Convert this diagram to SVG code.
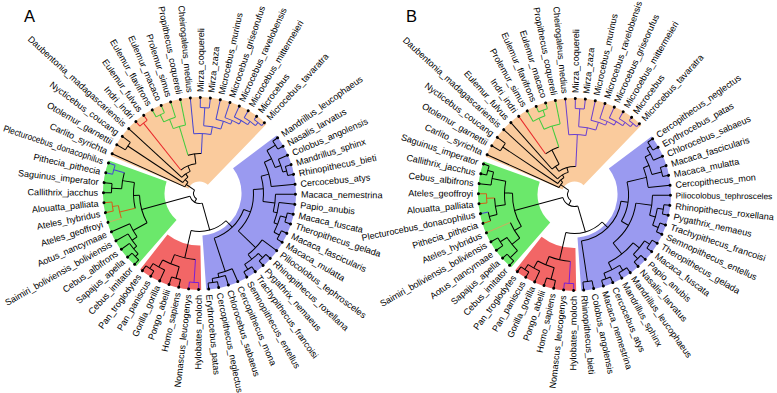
<svg xmlns="http://www.w3.org/2000/svg" width="777" height="393" viewBox="0 0 777 393">
<style>
text{font-family:"Liberation Sans",Arial,Helvetica,sans-serif;font-size:9.05px;fill:#000}
.e{text-anchor:end}
.t{font-size:16.5px}
.lf circle{fill:#000}
.br{fill:none;stroke:#000;stroke-width:1}
.br .cr{stroke:#E8262A}
.br .cg{stroke:#3DCC3D}
.br .cb{stroke:#4646D2}
.br .cv{stroke:#6A3FD0}
.br .cp{stroke:#7A1FD6}
.br .co{stroke:#D2601A}
.br .ck{stroke:#C8B060}
.wd circle{fill:none}
.wo{stroke:#FACB9D}
.wg{stroke:#6BE86B}
.wr{stroke:#F26666}
.wb{stroke:#9A9AF0}
</style>
<rect width="777" height="393" fill="#fff"/>
<text class="t" x="24" y="21.5">A</text>
<text class="t" x="406" y="21.5">B</text>

<g id="treeA" transform="translate(199.5,193.5)">
<g id="A_wedges" class="wd">
<circle class="wo" r="54.25" stroke-width="84.5" pathLength="360" stroke-dasharray="111 360" transform="rotate(203)"/>
<circle class="wg" r="65.75" stroke-width="61.5" pathLength="360" stroke-dasharray="69 360" transform="rotate(131)"/>
<circle class="wr" r="74.25" stroke-width="44.5" pathLength="360" stroke-dasharray="39 360" transform="rotate(89)"/>
<circle class="wb" r="69.25" stroke-width="54.5" pathLength="360" stroke-dasharray="123 360" transform="rotate(-37)"/>
</g>
<g id="A_connectors" class="br">
<circle r="6" pathLength="360" stroke-dasharray="94.884 360" transform="rotate(119.456)"/>
<line x1="6" x2="10" transform="rotate(119.456)"/><line x1="6" x2="16" transform="rotate(214.34)"/>
<circle r="10" pathLength="360" stroke-dasharray="90.2125 360" transform="rotate(74.35)"/>
<line x1="10" x2="38" transform="rotate(74.35)"/><line x1="10" x2="60" transform="rotate(164.5625)"/>
<circle r="38" pathLength="360" stroke-dasharray="57.045 360" transform="rotate(45.83)"/>
<line x1="38" x2="47" transform="rotate(45.83)"/><line x1="38" x2="66" transform="rotate(102.875)"/>
<circle r="47" pathLength="360" stroke-dasharray="51.845 360" transform="rotate(19.905)"/>
<line x1="47" x2="54" transform="rotate(19.905)"/><line x1="47" x2="82" transform="rotate(71.75)"/>
<circle r="54" pathLength="360" stroke-dasharray="48.19 360" transform="rotate(-4.19)"/>
<line x1="54" x2="64" transform="rotate(-4.19)"/><line x1="54" x2="78" transform="rotate(44)"/>
<circle r="64" pathLength="360" stroke-dasharray="22.875 360" transform="rotate(-15.625)"/>
<line x1="64" x2="72" transform="rotate(-15.625)"/><line x1="64" x2="76" transform="rotate(7.25)"/>
<circle r="72" pathLength="360" stroke-dasharray="20.25 360" transform="rotate(-25.75)"/>
<line x1="72" x2="80" transform="rotate(-25.75)"/><line x1="72" x2="96" transform="rotate(-5.5)"/>
<circle r="80" pathLength="360" stroke-dasharray="13.5 360" transform="rotate(-32.5)"/>
<line x1="80" x2="90" transform="rotate(-32.5)"/><line x1="80" x2="86" transform="rotate(-19)"/>
<circle r="90" pathLength="360" stroke-dasharray="6 360" transform="rotate(-35.5)"/>
<line x1="90" x2="96" transform="rotate(-35.5)"/><line x1="90" x2="96" transform="rotate(-29.5)"/>
<circle r="86" pathLength="360" stroke-dasharray="9 360" transform="rotate(-23.5)"/>
<line x1="86" x2="96" transform="rotate(-23.5)"/><line x1="86" x2="90" transform="rotate(-14.5)"/>
<circle r="90" pathLength="360" stroke-dasharray="6 360" transform="rotate(-17.5)"/>
<line x1="90" x2="96" transform="rotate(-17.5)"/><line x1="90" x2="96" transform="rotate(-11.5)"/>
<circle r="76" pathLength="360" stroke-dasharray="13.5 360" transform="rotate(0.5)"/>
<line x1="76" x2="96" transform="rotate(0.5)"/><line x1="76" x2="80" transform="rotate(14)"/>
<circle r="80" pathLength="360" stroke-dasharray="15 360" transform="rotate(6.5)"/>
<line x1="80" x2="96" transform="rotate(6.5)"/><line x1="80" x2="84" transform="rotate(21.5)"/>
<circle r="84" pathLength="360" stroke-dasharray="12 360" transform="rotate(15.5)"/>
<line x1="84" x2="90" transform="rotate(15.5)"/><line x1="84" x2="90" transform="rotate(27.5)"/>
<circle r="90" pathLength="360" stroke-dasharray="6 360" transform="rotate(12.5)"/>
<line x1="90" x2="96" transform="rotate(12.5)"/><line x1="90" x2="96" transform="rotate(18.5)"/>
<circle r="90" pathLength="360" stroke-dasharray="6 360" transform="rotate(24.5)"/>
<line x1="90" x2="96" transform="rotate(24.5)"/><line x1="90" x2="96" transform="rotate(30.5)"/>
<circle r="78" pathLength="360" stroke-dasharray="15 360" transform="rotate(36.5)"/>
<line x1="78" x2="96" transform="rotate(36.5)"/><line x1="78" x2="84" transform="rotate(51.5)"/>
<circle r="84" pathLength="360" stroke-dasharray="12 360" transform="rotate(45.5)"/>
<line x1="84" x2="90" transform="rotate(45.5)"/><line x1="84" x2="90" transform="rotate(57.5)"/>
<circle r="90" pathLength="360" stroke-dasharray="6 360" transform="rotate(42.5)"/>
<line x1="90" x2="96" transform="rotate(42.5)"/><line x1="90" x2="96" transform="rotate(48.5)"/>
<circle r="90" pathLength="360" stroke-dasharray="6 360" transform="rotate(54.5)"/>
<line x1="90" x2="96" transform="rotate(54.5)"/><line x1="90" x2="96" transform="rotate(60.5)"/>
<circle r="82" pathLength="360" stroke-dasharray="10.5 360" transform="rotate(66.5)"/>
<line x1="82" x2="96" transform="rotate(66.5)"/><line x1="82" x2="86" transform="rotate(77)"/>
<circle r="86" pathLength="360" stroke-dasharray="9 360" transform="rotate(72.5)"/>
<line x1="86" x2="96" transform="rotate(72.5)"/><line x1="86" x2="90" transform="rotate(81.5)"/>
<circle r="90" pathLength="360" stroke-dasharray="6 360" transform="rotate(78.5)"/>
<line x1="90" x2="96" transform="rotate(78.5)"/><line x1="90" x2="96" transform="rotate(84.5)"/>
<circle r="66" pathLength="360" stroke-dasharray="18.75 360" transform="rotate(93.5)"/>
<line class="cp" x1="66" x2="89" transform="rotate(93.5)"/><line x1="66" x2="76" transform="rotate(112.25)"/>
<circle class="cp" r="89" pathLength="360" stroke-dasharray="6 360" transform="rotate(90.5)"/>
<line class="cp" x1="89" x2="96" transform="rotate(90.5)"/><line class="cp" x1="89" x2="96" transform="rotate(96.5)"/>
<circle r="76" pathLength="360" stroke-dasharray="13.5 360" transform="rotate(105.5)"/>
<line x1="76" x2="88" transform="rotate(105.5)"/><line x1="76" x2="84" transform="rotate(119)"/>
<circle r="88" pathLength="360" stroke-dasharray="6 360" transform="rotate(102.5)"/>
<line x1="88" x2="96" transform="rotate(102.5)"/><line x1="88" x2="96" transform="rotate(108.5)"/>
<circle r="84" pathLength="360" stroke-dasharray="9 360" transform="rotate(114.5)"/>
<line x1="84" x2="96" transform="rotate(114.5)"/><line x1="84" x2="90" transform="rotate(123.5)"/>
<circle r="90" pathLength="360" stroke-dasharray="6 360" transform="rotate(120.5)"/>
<line x1="90" x2="96" transform="rotate(120.5)"/><line x1="90" x2="96" transform="rotate(126.5)"/>
<circle r="60" pathLength="360" stroke-dasharray="27.375 360" transform="rotate(150.875)"/>
<line x1="60" x2="76" transform="rotate(150.875)"/><line x1="60" x2="66" transform="rotate(178.25)"/>
<circle r="66" pathLength="360" stroke-dasharray="22.5 360" transform="rotate(167)"/>
<line class="co" x1="66" x2="82" transform="rotate(167)"/><line x1="66" x2="78" transform="rotate(189.5)"/>
<circle r="76" pathLength="360" stroke-dasharray="11.25 360" transform="rotate(145.25)"/>
<line x1="76" x2="82" transform="rotate(145.25)"/><line x1="76" x2="96" transform="rotate(156.5)"/>
<circle r="82" pathLength="360" stroke-dasharray="10.5 360" transform="rotate(140)"/>
<line x1="82" x2="86" transform="rotate(140)"/><line x1="82" x2="96" transform="rotate(150.5)"/>
<circle r="86" pathLength="360" stroke-dasharray="9 360" transform="rotate(135.5)"/>
<line x1="86" x2="90" transform="rotate(135.5)"/><line x1="86" x2="96" transform="rotate(144.5)"/>
<circle r="90" pathLength="360" stroke-dasharray="6 360" transform="rotate(132.5)"/>
<line x1="90" x2="96" transform="rotate(132.5)"/><line x1="90" x2="96" transform="rotate(138.5)"/>
<circle class="co" r="82" pathLength="360" stroke-dasharray="9 360" transform="rotate(162.5)"/>
<line class="ck" x1="82" x2="96" transform="rotate(162.5)"/><line class="co" x1="82" x2="88" transform="rotate(171.5)"/>
<circle class="co" r="88" pathLength="360" stroke-dasharray="6 360" transform="rotate(168.5)"/>
<line class="co" x1="88" x2="96" transform="rotate(168.5)"/><line class="co" x1="88" x2="96" transform="rotate(174.5)"/>
<circle r="78" pathLength="360" stroke-dasharray="12 360" transform="rotate(183.5)"/>
<line x1="78" x2="88" transform="rotate(183.5)"/><line class="cb" x1="78" x2="89" transform="rotate(195.5)"/>
<circle r="88" pathLength="360" stroke-dasharray="6 360" transform="rotate(180.5)"/>
<line x1="88" x2="96" transform="rotate(180.5)"/><line x1="88" x2="96" transform="rotate(186.5)"/>
<circle class="cb" r="89" pathLength="360" stroke-dasharray="6 360" transform="rotate(192.5)"/>
<line class="cb" x1="89" x2="96" transform="rotate(192.5)"/><line class="cb" x1="89" x2="96" transform="rotate(198.5)"/>
<circle r="16" pathLength="360" stroke-dasharray="19.685 360" transform="rotate(204.5)"/>
<line x1="16" x2="96" transform="rotate(204.5)"/><line x1="16" x2="20" transform="rotate(224.185)"/>
<circle r="20" pathLength="360" stroke-dasharray="21.37 360" transform="rotate(213.5)"/>
<line x1="20" x2="86" transform="rotate(213.5)"/><line x1="20" x2="24" transform="rotate(234.87)"/>
<circle r="86" pathLength="360" stroke-dasharray="6 360" transform="rotate(210.5)"/>
<line x1="86" x2="96" transform="rotate(210.5)"/><line x1="86" x2="96" transform="rotate(216.5)"/>
<circle r="24" pathLength="360" stroke-dasharray="24.74 360" transform="rotate(222.5)"/>
<line x1="24" x2="96" transform="rotate(222.5)"/><line x1="24" x2="30" transform="rotate(247.24)"/>
<circle r="30" pathLength="360" stroke-dasharray="31.477 360" transform="rotate(231.5)"/>
<line class="cr" x1="30" x2="90" transform="rotate(231.5)"/><line x1="30" x2="40" transform="rotate(262.977)"/>
<circle class="cr" r="90" pathLength="360" stroke-dasharray="6 360" transform="rotate(228.5)"/>
<line class="cr" x1="90" x2="96" transform="rotate(228.5)"/><line class="cr" x1="90" x2="96" transform="rotate(234.5)"/>
<circle r="40" pathLength="360" stroke-dasharray="19.453 360" transform="rotate(253.25)"/>
<line class="cg" x1="40" x2="70" transform="rotate(253.25)"/><line class="cb" x1="40" x2="60" transform="rotate(272.703)"/>
<circle class="cg" r="70" pathLength="360" stroke-dasharray="10.5 360" transform="rotate(248)"/>
<line class="cg" x1="70" x2="80" transform="rotate(248)"/><line class="cg" x1="70" x2="96" transform="rotate(258.5)"/>
<circle class="cg" r="80" pathLength="360" stroke-dasharray="9 360" transform="rotate(243.5)"/>
<line class="cg" x1="80" x2="88" transform="rotate(243.5)"/><line class="cg" x1="80" x2="96" transform="rotate(252.5)"/>
<circle class="cg" r="88" pathLength="360" stroke-dasharray="6 360" transform="rotate(240.5)"/>
<line class="cg" x1="88" x2="96" transform="rotate(240.5)"/><line class="cg" x1="88" x2="96" transform="rotate(246.5)"/>
<circle class="cb" r="60" pathLength="360" stroke-dasharray="16.406 360" transform="rotate(264.5)"/>
<line class="cb" x1="60" x2="96" transform="rotate(264.5)"/><line class="cb" x1="60" x2="68" transform="rotate(280.906)"/>
<circle class="cb" r="68" pathLength="360" stroke-dasharray="14.8125 360" transform="rotate(273.5)"/>
<line class="cb" x1="68" x2="86" transform="rotate(273.5)"/><line class="cb" x1="68" x2="76" transform="rotate(288.3125)"/>
<circle class="cb" r="86" pathLength="360" stroke-dasharray="6 360" transform="rotate(270.5)"/>
<line class="cb" x1="86" x2="96" transform="rotate(270.5)"/><line class="cb" x1="86" x2="96" transform="rotate(276.5)"/>
<circle class="cb" r="76" pathLength="360" stroke-dasharray="11.625 360" transform="rotate(282.5)"/>
<line class="cb" x1="76" x2="96" transform="rotate(282.5)"/><line class="cb" x1="76" x2="80" transform="rotate(294.125)"/>
<circle class="cb" r="80" pathLength="360" stroke-dasharray="11.25 360" transform="rotate(288.5)"/>
<line class="cb" x1="80" x2="96" transform="rotate(288.5)"/><line class="cb" x1="80" x2="84" transform="rotate(299.75)"/>
<circle class="cb" r="84" pathLength="360" stroke-dasharray="10.5 360" transform="rotate(294.5)"/>
<line class="cb" x1="84" x2="96" transform="rotate(294.5)"/><line class="cb" x1="84" x2="88" transform="rotate(305)"/>
<circle class="cb" r="88" pathLength="360" stroke-dasharray="9 360" transform="rotate(300.5)"/>
<line class="cb" x1="88" x2="96" transform="rotate(300.5)"/><line class="cb" x1="88" x2="92" transform="rotate(309.5)"/>
<circle class="cb" r="92" pathLength="360" stroke-dasharray="6 360" transform="rotate(306.5)"/>
<line class="cb" x1="92" x2="96" transform="rotate(306.5)"/><line class="cb" x1="92" x2="96" transform="rotate(312.5)"/>
</g>
<g id="A_leaves" class="lf">
<g id="A_Mandrillus_leucophaeus" transform="rotate(-35.5)"><circle cx="96" r="1.5"/><text x="101.5" y="3.2">Mandrillus_leucophaeus</text></g>
<g id="A_Nasalis_larvatus" transform="rotate(-29.5)"><circle cx="96" r="1.5"/><text x="101.5" y="3.2">Nasalis_larvatus</text></g>
<g id="A_Colobus_angolensis" transform="rotate(-23.5)"><circle cx="96" r="1.5"/><text x="101.5" y="3.2">Colobus_angolensis</text></g>
<g id="A_Mandrillus_sphinx" transform="rotate(-17.5)"><circle cx="96" r="1.5"/><text x="101.5" y="3.2">Mandrillus_sphinx</text></g>
<g id="A_Rhinopithecus_bieti" transform="rotate(-11.5)"><circle cx="96" r="1.5"/><text x="101.5" y="3.2">Rhinopithecus_bieti</text></g>
<g id="A_Cercocebus_atys" transform="rotate(-5.5)"><circle cx="96" r="1.5"/><text x="101.5" y="3.2">Cercocebus_atys</text></g>
<g id="A_Macaca_nemestrina" transform="rotate(0.5)"><circle cx="96" r="1.5"/><text x="101.5" y="3.2">Macaca_nemestrina</text></g>
<g id="A_Papio_anubis" transform="rotate(6.5)"><circle cx="96" r="1.5"/><text x="101.5" y="3.2">Papio_anubis</text></g>
<g id="A_Macaca_fuscata" transform="rotate(12.5)"><circle cx="96" r="1.5"/><text x="101.5" y="3.2">Macaca_fuscata</text></g>
<g id="A_Theropithecus_gelada" transform="rotate(18.5)"><circle cx="96" r="1.5"/><text x="101.5" y="3.2">Theropithecus_gelada</text></g>
<g id="A_Macaca_fascicularis" transform="rotate(24.5)"><circle cx="96" r="1.5"/><text x="101.5" y="3.2">Macaca_fascicularis</text></g>
<g id="A_Macaca_mulatta" transform="rotate(30.5)"><circle cx="96" r="1.5"/><text x="101.5" y="3.2">Macaca_mulatta</text></g>
<g id="A_Piliocolobus_tephrosceles" transform="rotate(36.5)"><circle cx="96" r="1.5"/><text x="101.5" y="3.2">Piliocolobus_tephrosceles</text></g>
<g id="A_Rhinopithecus_roxellana" transform="rotate(42.5)"><circle cx="96" r="1.5"/><text x="101.5" y="3.2">Rhinopithecus_roxellana</text></g>
<g id="A_Pygathrix_nemaeus" transform="rotate(48.5)"><circle cx="96" r="1.5"/><text x="101.5" y="3.2">Pygathrix_nemaeus</text></g>
<g id="A_Trachypithecus_francoisi" transform="rotate(54.5)"><circle cx="96" r="1.5"/><text x="101.5" y="3.2">Trachypithecus_francoisi</text></g>
<g id="A_Semnopithecus_entellus" transform="rotate(60.5)"><circle cx="96" r="1.5"/><text x="101.5" y="3.2">Semnopithecus_entellus</text></g>
<g id="A_Cercopithecus_mona" transform="rotate(66.5)"><circle cx="96" r="1.5"/><text x="101.5" y="3.2">Cercopithecus_mona</text></g>
<g id="A_Chlorocebus_sabaeus" transform="rotate(72.5)"><circle cx="96" r="1.5"/><text x="101.5" y="3.2">Chlorocebus_sabaeus</text></g>
<g id="A_Cercopithecus_neglectus" transform="rotate(78.5)"><circle cx="96" r="1.5"/><text x="101.5" y="3.2">Cercopithecus_neglectus</text></g>
<g id="A_Erythrocebus_patas" transform="rotate(84.5)"><circle cx="96" r="1.5"/><text x="101.5" y="3.2">Erythrocebus_patas</text></g>
<g id="A_Hylobates_moloch" transform="rotate(90.5)"><circle cx="96" r="1.5"/><text class="e" transform="rotate(180)" x="-101.5" y="3.2">Hylobates_moloch</text></g>
<g id="A_Nomascus_leucogenys" transform="rotate(96.5)"><circle cx="96" r="1.5"/><text class="e" transform="rotate(180)" x="-101.5" y="3.2">Nomascus_leucogenys</text></g>
<g id="A_Homo_sapiens" transform="rotate(102.5)"><circle cx="96" r="1.5"/><text class="e" transform="rotate(180)" x="-101.5" y="3.2">Homo_sapiens</text></g>
<g id="A_Pongo_abelii" transform="rotate(108.5)"><circle cx="96" r="1.5"/><text class="e" transform="rotate(180)" x="-101.5" y="3.2">Pongo_abelii</text></g>
<g id="A_Gorilla_gorilla" transform="rotate(114.5)"><circle cx="96" r="1.5"/><text class="e" transform="rotate(180)" x="-101.5" y="3.2">Gorilla_gorilla</text></g>
<g id="A_Pan_paniscus" transform="rotate(120.5)"><circle cx="96" r="1.5"/><text class="e" transform="rotate(180)" x="-101.5" y="3.2">Pan_paniscus</text></g>
<g id="A_Pan_troglodytes" transform="rotate(126.5)"><circle cx="96" r="1.5"/><text class="e" transform="rotate(180)" x="-101.5" y="3.2">Pan_troglodytes</text></g>
<g id="A_Cebus_imitator" transform="rotate(132.5)"><circle cx="96" r="1.5"/><text class="e" transform="rotate(180)" x="-101.5" y="3.2">Cebus_imitator</text></g>
<g id="A_Sapajus_apella" transform="rotate(138.5)"><circle cx="96" r="1.5"/><text class="e" transform="rotate(180)" x="-101.5" y="3.2">Sapajus_apella</text></g>
<g id="A_Cebus_albifrons" transform="rotate(144.5)"><circle cx="96" r="1.5"/><text class="e" transform="rotate(180)" x="-101.5" y="3.2">Cebus_albifrons</text></g>
<g id="A_Saimiri_boliviensis_boliviensis" transform="rotate(150.5)"><circle cx="96" r="1.5"/><text class="e" transform="rotate(180)" x="-101.5" y="3.2">Saimiri_boliviensis_boliviensis</text></g>
<g id="A_Aotus_nancymaae" transform="rotate(156.5)"><circle cx="96" r="1.5"/><text class="e" transform="rotate(180)" x="-101.5" y="3.2">Aotus_nancymaae</text></g>
<g id="A_Ateles_geoffroyi" transform="rotate(162.5)"><circle cx="96" r="1.5"/><text class="e" transform="rotate(180)" x="-101.5" y="3.2">Ateles_geoffroyi</text></g>
<g id="A_Ateles_hybridus" transform="rotate(168.5)"><circle cx="96" r="1.5"/><text class="e" transform="rotate(180)" x="-101.5" y="3.2">Ateles_hybridus</text></g>
<g id="A_Alouatta_palliata" transform="rotate(174.5)"><circle cx="96" r="1.5"/><text class="e" transform="rotate(180)" x="-101.5" y="3.2">Alouatta_palliata</text></g>
<g id="A_Callithrix_jacchus" transform="rotate(180.5)"><circle cx="96" r="1.5"/><text class="e" transform="rotate(180)" x="-101.5" y="3.2">Callithrix_jacchus</text></g>
<g id="A_Saguinus_imperator" transform="rotate(186.5)"><circle cx="96" r="1.5"/><text class="e" transform="rotate(180)" x="-101.5" y="3.2">Saguinus_imperator</text></g>
<g id="A_Pithecia_pithecia" transform="rotate(192.5)"><circle cx="96" r="1.5"/><text class="e" transform="rotate(180)" x="-101.5" y="3.2">Pithecia_pithecia</text></g>
<g id="A_Plecturocebus_donacophilus" transform="rotate(198.5)"><circle cx="96" r="1.5"/><text class="e" transform="rotate(180)" x="-101.5" y="3.2" textLength="105" lengthAdjust="spacingAndGlyphs">Plecturocebus_donacophilus</text></g>
<g id="A_Carlito_syrichta" transform="rotate(204.5)"><circle cx="96" r="1.5"/><text class="e" transform="rotate(180)" x="-101.5" y="3.2">Carlito_syrichta</text></g>
<g id="A_Otolemur_garnettii" transform="rotate(210.5)"><circle cx="96" r="1.5"/><text class="e" transform="rotate(180)" x="-101.5" y="3.2">Otolemur_garnettii</text></g>
<g id="A_Nycticebus_coucang" transform="rotate(216.5)"><circle cx="96" r="1.5"/><text class="e" transform="rotate(180)" x="-101.5" y="3.2">Nycticebus_coucang</text></g>
<g id="A_Daubentonia_madagascariensis" transform="rotate(222.5)"><circle cx="96" r="1.5"/><text class="e" transform="rotate(180)" x="-101.5" y="3.2">Daubentonia_madagascariensis</text></g>
<g id="A_Indri_indri" transform="rotate(228.5)"><circle cx="96" r="1.5"/><text class="e" transform="rotate(180)" x="-101.5" y="3.2">Indri_indri</text></g>
<g id="A_Eulemur_fulvus" transform="rotate(234.5)"><circle cx="96" r="1.5"/><text class="e" transform="rotate(180)" x="-101.5" y="3.2">Eulemur_fulvus</text></g>
<g id="A_Eulemur_flavifrons" transform="rotate(240.5)"><circle cx="96" r="1.5"/><text class="e" transform="rotate(180)" x="-101.5" y="3.2">Eulemur_flavifrons</text></g>
<g id="A_Eulemur_macaco" transform="rotate(246.5)"><circle cx="96" r="1.5"/><text class="e" transform="rotate(180)" x="-101.5" y="3.2">Eulemur_macaco</text></g>
<g id="A_Prolemur_simus" transform="rotate(252.5)"><circle cx="96" r="1.5"/><text class="e" transform="rotate(180)" x="-101.5" y="3.2">Prolemur_simus</text></g>
<g id="A_Propithecus_coquereli" transform="rotate(258.5)"><circle cx="96" r="1.5"/><text class="e" transform="rotate(180)" x="-101.5" y="3.2">Propithecus_coquereli</text></g>
<g id="A_Cheirogaleus_medius" transform="rotate(264.5)"><circle cx="96" r="1.5"/><text class="e" transform="rotate(180)" x="-101.5" y="3.2">Cheirogaleus_medius</text></g>
<g id="A_Mirza_coquereli" transform="rotate(270.5)"><circle cx="96" r="1.5"/><text x="101.5" y="3.2">Mirza_coquereli</text></g>
<g id="A_Mirza_zaza" transform="rotate(276.5)"><circle cx="96" r="1.5"/><text x="101.5" y="3.2">Mirza_zaza</text></g>
<g id="A_Microcebus_murinus" transform="rotate(282.5)"><circle cx="96" r="1.5"/><text x="101.5" y="3.2">Microcebus_murinus</text></g>
<g id="A_Microcebus_griseorufus" transform="rotate(288.5)"><circle cx="96" r="1.5"/><text x="101.5" y="3.2">Microcebus_griseorufus</text></g>
<g id="A_Microcebus_ravelobensis" transform="rotate(294.5)"><circle cx="96" r="1.5"/><text x="101.5" y="3.2">Microcebus_ravelobensis</text></g>
<g id="A_Microcebus_mittermeieri" transform="rotate(300.5)"><circle cx="96" r="1.5"/><text x="101.5" y="3.2">Microcebus_mittermeieri</text></g>
<g id="A_Microcebus" transform="rotate(306.5)"><circle cx="96" r="1.5"/><text x="101.5" y="3.2">Microcebus</text></g>
<g id="A_Microcebus_tavaratra" transform="rotate(312.5)"><circle cx="96" r="1.5"/><text x="101.5" y="3.2">Microcebus_tavaratra</text></g>
</g>
</g>

<g id="treeB" transform="translate(574.5,194.5)">
<g id="B_wedges" class="wd">
<circle class="wo" r="54.75" stroke-width="83.5" pathLength="360" stroke-dasharray="111 360" transform="rotate(203)"/>
<circle class="wg" r="66.75" stroke-width="59.5" pathLength="360" stroke-dasharray="69 360" transform="rotate(131)"/>
<circle class="wr" r="75" stroke-width="43" pathLength="360" stroke-dasharray="39 360" transform="rotate(89)"/>
<circle class="wb" r="69.75" stroke-width="53.5" pathLength="360" stroke-dasharray="123 360" transform="rotate(-37)"/>
</g>
<g id="B_connectors" class="br">
<circle r="7" pathLength="360" stroke-dasharray="95.73 360" transform="rotate(119.49)"/>
<line x1="7" x2="12" transform="rotate(119.49)"/><line x1="7" x2="17" transform="rotate(215.22)"/>
<circle r="12" pathLength="360" stroke-dasharray="91.265 360" transform="rotate(73.86)"/>
<line x1="12" x2="39" transform="rotate(73.86)"/><line x1="12" x2="62" transform="rotate(165.125)"/>
<circle r="39" pathLength="360" stroke-dasharray="58.035 360" transform="rotate(44.84)"/>
<line x1="39" x2="47" transform="rotate(44.84)"/><line x1="39" x2="67" transform="rotate(102.875)"/>
<circle r="47" pathLength="360" stroke-dasharray="73.3125 360" transform="rotate(8.1875)"/>
<line x1="47" x2="54" transform="rotate(8.1875)"/><line x1="47" x2="88" transform="rotate(81.5)"/>
<circle r="54" pathLength="360" stroke-dasharray="43.125 360" transform="rotate(-13.375)"/>
<line x1="54" x2="74" transform="rotate(-13.375)"/><line x1="54" x2="62" transform="rotate(29.75)"/>
<circle r="74" pathLength="360" stroke-dasharray="15.75 360" transform="rotate(-21.25)"/>
<line x1="74" x2="80" transform="rotate(-21.25)"/><line x1="74" x2="96" transform="rotate(-5.5)"/>
<circle r="80" pathLength="360" stroke-dasharray="13.5 360" transform="rotate(-28)"/>
<line x1="80" x2="86" transform="rotate(-28)"/><line x1="80" x2="90" transform="rotate(-14.5)"/>
<circle r="86" pathLength="360" stroke-dasharray="9 360" transform="rotate(-32.5)"/>
<line x1="86" x2="90" transform="rotate(-32.5)"/><line x1="86" x2="96" transform="rotate(-23.5)"/>
<circle r="90" pathLength="360" stroke-dasharray="6 360" transform="rotate(-35.5)"/>
<line x1="90" x2="96" transform="rotate(-35.5)"/><line x1="90" x2="96" transform="rotate(-29.5)"/>
<circle r="90" pathLength="360" stroke-dasharray="6 360" transform="rotate(-17.5)"/>
<line x1="90" x2="96" transform="rotate(-17.5)"/><line x1="90" x2="96" transform="rotate(-11.5)"/>
<circle r="62" pathLength="360" stroke-dasharray="43.5 360" transform="rotate(8)"/>
<line x1="62" x2="78" transform="rotate(8)"/><line x1="62" x2="76" transform="rotate(51.5)"/>
<circle r="78" pathLength="360" stroke-dasharray="15 360" transform="rotate(0.5)"/>
<line x1="78" x2="96" transform="rotate(0.5)"/><line x1="78" x2="84" transform="rotate(15.5)"/>
<circle r="84" pathLength="360" stroke-dasharray="12 360" transform="rotate(9.5)"/>
<line x1="84" x2="90" transform="rotate(9.5)"/><line x1="84" x2="90" transform="rotate(21.5)"/>
<circle r="90" pathLength="360" stroke-dasharray="6 360" transform="rotate(6.5)"/>
<line x1="90" x2="96" transform="rotate(6.5)"/><line x1="90" x2="96" transform="rotate(12.5)"/>
<circle r="90" pathLength="360" stroke-dasharray="6 360" transform="rotate(18.5)"/>
<line x1="90" x2="96" transform="rotate(18.5)"/><line x1="90" x2="96" transform="rotate(24.5)"/>
<circle r="76" pathLength="360" stroke-dasharray="24 360" transform="rotate(39.5)"/>
<line x1="76" x2="84" transform="rotate(39.5)"/><line x1="76" x2="84" transform="rotate(63.5)"/>
<circle r="84" pathLength="360" stroke-dasharray="12 360" transform="rotate(33.5)"/>
<line x1="84" x2="90" transform="rotate(33.5)"/><line x1="84" x2="90" transform="rotate(45.5)"/>
<circle r="90" pathLength="360" stroke-dasharray="6 360" transform="rotate(30.5)"/>
<line x1="90" x2="96" transform="rotate(30.5)"/><line x1="90" x2="96" transform="rotate(36.5)"/>
<circle r="90" pathLength="360" stroke-dasharray="6 360" transform="rotate(42.5)"/>
<line x1="90" x2="96" transform="rotate(42.5)"/><line x1="90" x2="96" transform="rotate(48.5)"/>
<circle r="84" pathLength="360" stroke-dasharray="12 360" transform="rotate(57.5)"/>
<line x1="84" x2="90" transform="rotate(57.5)"/><line x1="84" x2="90" transform="rotate(69.5)"/>
<circle r="90" pathLength="360" stroke-dasharray="6 360" transform="rotate(54.5)"/>
<line x1="90" x2="96" transform="rotate(54.5)"/><line x1="90" x2="96" transform="rotate(60.5)"/>
<circle r="90" pathLength="360" stroke-dasharray="6 360" transform="rotate(66.5)"/>
<line x1="90" x2="96" transform="rotate(66.5)"/><line x1="90" x2="96" transform="rotate(72.5)"/>
<circle r="88" pathLength="360" stroke-dasharray="6 360" transform="rotate(78.5)"/>
<line x1="88" x2="96" transform="rotate(78.5)"/><line x1="88" x2="96" transform="rotate(84.5)"/>
<circle r="67" pathLength="360" stroke-dasharray="18.75 360" transform="rotate(93.5)"/>
<line class="cp" x1="67" x2="89" transform="rotate(93.5)"/><line x1="67" x2="76" transform="rotate(112.25)"/>
<circle class="cp" r="89" pathLength="360" stroke-dasharray="6 360" transform="rotate(90.5)"/>
<line class="cp" x1="89" x2="96" transform="rotate(90.5)"/><line class="cp" x1="89" x2="96" transform="rotate(96.5)"/>
<circle r="76" pathLength="360" stroke-dasharray="13.5 360" transform="rotate(105.5)"/>
<line x1="76" x2="88" transform="rotate(105.5)"/><line x1="76" x2="84" transform="rotate(119)"/>
<circle r="88" pathLength="360" stroke-dasharray="6 360" transform="rotate(102.5)"/>
<line x1="88" x2="96" transform="rotate(102.5)"/><line x1="88" x2="96" transform="rotate(108.5)"/>
<circle r="84" pathLength="360" stroke-dasharray="9 360" transform="rotate(114.5)"/>
<line x1="84" x2="96" transform="rotate(114.5)"/><line x1="84" x2="90" transform="rotate(123.5)"/>
<circle r="90" pathLength="360" stroke-dasharray="6 360" transform="rotate(120.5)"/>
<line x1="90" x2="96" transform="rotate(120.5)"/><line x1="90" x2="96" transform="rotate(126.5)"/>
<circle r="62" pathLength="360" stroke-dasharray="32.25 360" transform="rotate(149)"/>
<line x1="62" x2="70" transform="rotate(149)"/><line x1="62" x2="70" transform="rotate(181.25)"/>
<circle r="70" pathLength="360" stroke-dasharray="15 360" transform="rotate(141.5)"/>
<line x1="70" x2="80" transform="rotate(141.5)"/><line class="ck" x1="70" x2="96" transform="rotate(156.5)"/>
<circle r="80" pathLength="360" stroke-dasharray="12 360" transform="rotate(135.5)"/>
<line x1="80" x2="90" transform="rotate(135.5)"/><line x1="80" x2="88" transform="rotate(147.5)"/>
<circle r="90" pathLength="360" stroke-dasharray="6 360" transform="rotate(132.5)"/>
<line x1="90" x2="96" transform="rotate(132.5)"/><line x1="90" x2="96" transform="rotate(138.5)"/>
<circle r="88" pathLength="360" stroke-dasharray="6 360" transform="rotate(144.5)"/>
<line x1="88" x2="96" transform="rotate(144.5)"/><line x1="88" x2="96" transform="rotate(150.5)"/>
<circle r="70" pathLength="360" stroke-dasharray="19.5 360" transform="rotate(171.5)"/>
<line x1="70" x2="80" transform="rotate(171.5)"/><line x1="70" x2="84" transform="rotate(191)"/>
<circle r="80" pathLength="360" stroke-dasharray="12 360" transform="rotate(165.5)"/>
<line x1="80" x2="88" transform="rotate(165.5)"/><line class="co" x1="80" x2="88" transform="rotate(177.5)"/>
<circle r="88" pathLength="360" stroke-dasharray="6 360" transform="rotate(162.5)"/>
<line class="co" x1="88" x2="96" transform="rotate(162.5)"/><line class="cb" x1="88" x2="96" transform="rotate(168.5)"/>
<circle class="co" r="88" pathLength="360" stroke-dasharray="6 360" transform="rotate(174.5)"/>
<line class="co" x1="88" x2="96" transform="rotate(174.5)"/><line class="co" x1="88" x2="96" transform="rotate(180.5)"/>
<circle r="84" pathLength="360" stroke-dasharray="9 360" transform="rotate(186.5)"/>
<line x1="84" x2="96" transform="rotate(186.5)"/><line x1="84" x2="90" transform="rotate(195.5)"/>
<circle r="90" pathLength="360" stroke-dasharray="6 360" transform="rotate(192.5)"/>
<line x1="90" x2="96" transform="rotate(192.5)"/><line x1="90" x2="96" transform="rotate(198.5)"/>
<circle r="17" pathLength="360" stroke-dasharray="21.44 360" transform="rotate(204.5)"/>
<line x1="17" x2="96" transform="rotate(204.5)"/><line x1="17" x2="20" transform="rotate(225.94)"/>
<circle r="20" pathLength="360" stroke-dasharray="24.875 360" transform="rotate(213.5)"/>
<line x1="20" x2="86" transform="rotate(213.5)"/><line x1="20" x2="23" transform="rotate(238.375)"/>
<circle r="86" pathLength="360" stroke-dasharray="6 360" transform="rotate(210.5)"/>
<line x1="86" x2="96" transform="rotate(210.5)"/><line x1="86" x2="96" transform="rotate(216.5)"/>
<circle r="23" pathLength="360" stroke-dasharray="31.75 360" transform="rotate(222.5)"/>
<line x1="23" x2="96" transform="rotate(222.5)"/><line x1="23" x2="28" transform="rotate(254.25)"/>
<circle r="28" pathLength="360" stroke-dasharray="36.903 360" transform="rotate(235.8)"/>
<line x1="28" x2="34" transform="rotate(235.8)"/><line class="cv" x1="28" x2="60" transform="rotate(272.703)"/>
<circle r="34" pathLength="360" stroke-dasharray="14.625 360" transform="rotate(228.5)"/>
<line x1="34" x2="96" transform="rotate(228.5)"/><line x1="34" x2="50" transform="rotate(243.125)"/>
<circle r="50" pathLength="360" stroke-dasharray="17.25 360" transform="rotate(234.5)"/>
<line class="cr" x1="50" x2="96" transform="rotate(234.5)"/><line class="cg" x1="50" x2="72" transform="rotate(251.75)"/>
<circle class="cg" r="72" pathLength="360" stroke-dasharray="13.5 360" transform="rotate(245)"/>
<line class="cg" x1="72" x2="84" transform="rotate(245)"/><line class="cg" x1="72" x2="96" transform="rotate(258.5)"/>
<circle class="cg" r="84" pathLength="360" stroke-dasharray="9 360" transform="rotate(240.5)"/>
<line class="cg" x1="84" x2="96" transform="rotate(240.5)"/><line class="cg" x1="84" x2="90" transform="rotate(249.5)"/>
<circle class="cg" r="90" pathLength="360" stroke-dasharray="6 360" transform="rotate(246.5)"/>
<line class="cg" x1="90" x2="96" transform="rotate(246.5)"/><line class="cg" x1="90" x2="96" transform="rotate(252.5)"/>
<circle class="cv" r="60" pathLength="360" stroke-dasharray="16.406 360" transform="rotate(264.5)"/>
<line class="cv" x1="60" x2="96" transform="rotate(264.5)"/><line class="cv" x1="60" x2="68" transform="rotate(280.906)"/>
<circle class="cv" r="68" pathLength="360" stroke-dasharray="14.8125 360" transform="rotate(273.5)"/>
<line class="cv" x1="68" x2="86" transform="rotate(273.5)"/><line class="cv" x1="68" x2="76" transform="rotate(288.3125)"/>
<circle class="cv" r="86" pathLength="360" stroke-dasharray="6 360" transform="rotate(270.5)"/>
<line class="cv" x1="86" x2="96" transform="rotate(270.5)"/><line class="cv" x1="86" x2="96" transform="rotate(276.5)"/>
<circle class="cv" r="76" pathLength="360" stroke-dasharray="11.625 360" transform="rotate(282.5)"/>
<line class="cv" x1="76" x2="96" transform="rotate(282.5)"/><line class="cv" x1="76" x2="80" transform="rotate(294.125)"/>
<circle class="cv" r="80" pathLength="360" stroke-dasharray="11.25 360" transform="rotate(288.5)"/>
<line class="cv" x1="80" x2="96" transform="rotate(288.5)"/><line class="cv" x1="80" x2="84" transform="rotate(299.75)"/>
<circle class="cv" r="84" pathLength="360" stroke-dasharray="10.5 360" transform="rotate(294.5)"/>
<line class="cv" x1="84" x2="96" transform="rotate(294.5)"/><line class="cv" x1="84" x2="88" transform="rotate(305)"/>
<circle class="cv" r="88" pathLength="360" stroke-dasharray="9 360" transform="rotate(300.5)"/>
<line class="cv" x1="88" x2="96" transform="rotate(300.5)"/><line class="cv" x1="88" x2="92" transform="rotate(309.5)"/>
<circle class="cv" r="92" pathLength="360" stroke-dasharray="6 360" transform="rotate(306.5)"/>
<line class="cv" x1="92" x2="96" transform="rotate(306.5)"/><line class="cv" x1="92" x2="96" transform="rotate(312.5)"/>
</g>
<g id="B_leaves" class="lf">
<g id="B_Cercopithecus_neglectus" transform="rotate(-35.5)"><circle cx="96" r="1.5"/><text x="101.5" y="3.2">Cercopithecus_neglectus</text></g>
<g id="B_Erythrocebus_patas" transform="rotate(-29.5)"><circle cx="96" r="1.5"/><text x="101.5" y="3.2">Erythrocebus_patas</text></g>
<g id="B_Chlorocebus_sabaeus" transform="rotate(-23.5)"><circle cx="96" r="1.5"/><text x="101.5" y="3.2">Chlorocebus_sabaeus</text></g>
<g id="B_Macaca_fascicularis" transform="rotate(-17.5)"><circle cx="96" r="1.5"/><text x="101.5" y="3.2">Macaca_fascicularis</text></g>
<g id="B_Macaca_mulatta" transform="rotate(-11.5)"><circle cx="96" r="1.5"/><text x="101.5" y="3.2">Macaca_mulatta</text></g>
<g id="B_Cercopithecus_mon" transform="rotate(-5.5)"><circle cx="96" r="1.5"/><text x="101.5" y="3.2">Cercopithecus_mon</text></g>
<g id="B_Piliocolobus_tephrosceles" transform="rotate(0.5)"><circle cx="96" r="1.5"/><text x="101" y="3" style="font-size:8.4px">Piliocolobus_tephrosceles</text></g>
<g id="B_Rhinopithecus_roxellana" transform="rotate(6.5)"><circle cx="96" r="1.5"/><text x="101.5" y="3.2">Rhinopithecus_roxellana</text></g>
<g id="B_Pygathrix_nemaeus" transform="rotate(12.5)"><circle cx="96" r="1.5"/><text x="101.5" y="3.2">Pygathrix_nemaeus</text></g>
<g id="B_Trachypithecus_francoisi" transform="rotate(18.5)"><circle cx="96" r="1.5"/><text x="101.5" y="3.2">Trachypithecus_francoisi</text></g>
<g id="B_Semnopithecus_entellus" transform="rotate(24.5)"><circle cx="96" r="1.5"/><text x="101.5" y="3.2">Semnopithecus_entellus</text></g>
<g id="B_Theropithecus_gelada" transform="rotate(30.5)"><circle cx="96" r="1.5"/><text x="101.5" y="3.2">Theropithecus_gelada</text></g>
<g id="B_Macaca_fuscata" transform="rotate(36.5)"><circle cx="96" r="1.5"/><text x="101.5" y="3.2">Macaca_fuscata</text></g>
<g id="B_Papio_anubis" transform="rotate(42.5)"><circle cx="96" r="1.5"/><text x="101.5" y="3.2">Papio_anubis</text></g>
<g id="B_Nasalis_larvatus" transform="rotate(48.5)"><circle cx="96" r="1.5"/><text x="101.5" y="3.2">Nasalis_larvatus</text></g>
<g id="B_Mandrillus_leucophaeus" transform="rotate(54.5)"><circle cx="96" r="1.5"/><text x="101.5" y="3.2">Mandrillus_leucophaeus</text></g>
<g id="B_Mandrillus_sphinx" transform="rotate(60.5)"><circle cx="96" r="1.5"/><text x="101.5" y="3.2">Mandrillus_sphinx</text></g>
<g id="B_Cercocebus_atys" transform="rotate(66.5)"><circle cx="96" r="1.5"/><text x="101.5" y="3.2">Cercocebus_atys</text></g>
<g id="B_Macaca_nemestrina" transform="rotate(72.5)"><circle cx="96" r="1.5"/><text x="101.5" y="3.2">Macaca_nemestrina</text></g>
<g id="B_Colobus_angolensis" transform="rotate(78.5)"><circle cx="96" r="1.5"/><text x="101.5" y="3.2">Colobus_angolensis</text></g>
<g id="B_Rhinopithecus_bieti" transform="rotate(84.5)"><circle cx="96" r="1.5"/><text x="101.5" y="3.2">Rhinopithecus_bieti</text></g>
<g id="B_Hylobates_moloch" transform="rotate(90.5)"><circle cx="96" r="1.5"/><text class="e" transform="rotate(180)" x="-101.5" y="3.2">Hylobates_moloch</text></g>
<g id="B_Nomascus_leucogenys" transform="rotate(96.5)"><circle cx="96" r="1.5"/><text class="e" transform="rotate(180)" x="-101.5" y="3.2">Nomascus_leucogenys</text></g>
<g id="B_Homo_sapiens" transform="rotate(102.5)"><circle cx="96" r="1.5"/><text class="e" transform="rotate(180)" x="-101.5" y="3.2">Homo_sapiens</text></g>
<g id="B_Pongo_abelii" transform="rotate(108.5)"><circle cx="96" r="1.5"/><text class="e" transform="rotate(180)" x="-101.5" y="3.2">Pongo_abelii</text></g>
<g id="B_Gorilla_gorilla" transform="rotate(114.5)"><circle cx="96" r="1.5"/><text class="e" transform="rotate(180)" x="-101.5" y="3.2">Gorilla_gorilla</text></g>
<g id="B_Pan_paniscus" transform="rotate(120.5)"><circle cx="96" r="1.5"/><text class="e" transform="rotate(180)" x="-101.5" y="3.2">Pan_paniscus</text></g>
<g id="B_Pan_troglodytes" transform="rotate(126.5)"><circle cx="96" r="1.5"/><text class="e" transform="rotate(180)" x="-101.5" y="3.2">Pan_troglodytes</text></g>
<g id="B_Cebus_imitator" transform="rotate(132.5)"><circle cx="96" r="1.5"/><text class="e" transform="rotate(180)" x="-101.5" y="3.2">Cebus_imitator</text></g>
<g id="B_Sapajus_apella" transform="rotate(138.5)"><circle cx="96" r="1.5"/><text class="e" transform="rotate(180)" x="-101.5" y="3.2">Sapajus_apella</text></g>
<g id="B_Aotus_nancymaae" transform="rotate(144.5)"><circle cx="96" r="1.5"/><text class="e" transform="rotate(180)" x="-101.5" y="3.2">Aotus_nancymaae</text></g>
<g id="B_Saimiri_boliviensis_boliviensis" transform="rotate(150.5)"><circle cx="96" r="1.5"/><text class="e" transform="rotate(180)" x="-101.5" y="3.2">Saimiri_boliviensis_boliviensis</text></g>
<g id="B_Ateles_hybridus" transform="rotate(156.5)"><circle cx="96" r="1.5"/><text class="e" transform="rotate(180)" x="-101.5" y="3.2">Ateles_hybridus</text></g>
<g id="B_Pithecia_pithecia" transform="rotate(162.5)"><circle cx="96" r="1.5"/><text class="e" transform="rotate(180)" x="-101.5" y="3.2">Pithecia_pithecia</text></g>
<g id="B_Plecturocebus_donacophilus" transform="rotate(168.5)"><circle cx="96" r="1.5"/><text class="e" transform="rotate(180)" x="-101.5" y="3.2">Plecturocebus_donacophilus</text></g>
<g id="B_Alouatta_palliata" transform="rotate(174.5)"><circle cx="96" r="1.5"/><text class="e" transform="rotate(180)" x="-101.5" y="3.2">Alouatta_palliata</text></g>
<g id="B_Ateles_geoffroyi" transform="rotate(180.5)"><circle cx="96" r="1.5"/><text class="e" transform="rotate(180)" x="-101.5" y="3.2">Ateles_geoffroyi</text></g>
<g id="B_Cebus_albifrons" transform="rotate(186.5)"><circle cx="96" r="1.5"/><text class="e" transform="rotate(180)" x="-101.5" y="3.2">Cebus_albifrons</text></g>
<g id="B_Callithrix_jacchus" transform="rotate(192.5)"><circle cx="96" r="1.5"/><text class="e" transform="rotate(180)" x="-101.5" y="3.2">Callithrix_jacchus</text></g>
<g id="B_Saguinus_imperator" transform="rotate(198.5)"><circle cx="96" r="1.5"/><text class="e" transform="rotate(180)" x="-101.5" y="3.2">Saguinus_imperator</text></g>
<g id="B_Carlito_syrichta" transform="rotate(204.5)"><circle cx="96" r="1.5"/><text class="e" transform="rotate(180)" x="-101.5" y="3.2">Carlito_syrichta</text></g>
<g id="B_Otolemur_garnettii" transform="rotate(210.5)"><circle cx="96" r="1.5"/><text class="e" transform="rotate(180)" x="-101.5" y="3.2">Otolemur_garnettii</text></g>
<g id="B_Nycticebus_coucang" transform="rotate(216.5)"><circle cx="96" r="1.5"/><text class="e" transform="rotate(180)" x="-101.5" y="3.2">Nycticebus_coucang</text></g>
<g id="B_Daubentonia_madagascariensis" transform="rotate(222.5)"><circle cx="96" r="1.5"/><text class="e" transform="rotate(180)" x="-101.5" y="3.2">Daubentonia_madagascariensis</text></g>
<g id="B_Eulemur_fulvus" transform="rotate(228.5)"><circle cx="96" r="1.5"/><text class="e" transform="rotate(180)" x="-101.5" y="3.2">Eulemur_fulvus</text></g>
<g id="B_Indri_indri" transform="rotate(234.5)"><circle cx="96" r="1.5"/><text class="e" transform="rotate(180)" x="-101.5" y="3.2">Indri_indri</text></g>
<g id="B_Prolemur_simus" transform="rotate(240.5)"><circle cx="96" r="1.5"/><text class="e" transform="rotate(180)" x="-101.5" y="3.2">Prolemur_simus</text></g>
<g id="B_Eulemur_flavifrons" transform="rotate(246.5)"><circle cx="96" r="1.5"/><text class="e" transform="rotate(180)" x="-101.5" y="3.2">Eulemur_flavifrons</text></g>
<g id="B_Eulemur_macaco" transform="rotate(252.5)"><circle cx="96" r="1.5"/><text class="e" transform="rotate(180)" x="-101.5" y="3.2">Eulemur_macaco</text></g>
<g id="B_Propithecus_coquereli" transform="rotate(258.5)"><circle cx="96" r="1.5"/><text class="e" transform="rotate(180)" x="-101.5" y="3.2">Propithecus_coquereli</text></g>
<g id="B_Cheirogaleus_medius" transform="rotate(264.5)"><circle cx="96" r="1.5"/><text class="e" transform="rotate(180)" x="-101.5" y="3.2">Cheirogaleus_medius</text></g>
<g id="B_Mirza_coquereli" transform="rotate(270.5)"><circle cx="96" r="1.5"/><text x="101.5" y="3.2">Mirza_coquereli</text></g>
<g id="B_Mirza_zaza" transform="rotate(276.5)"><circle cx="96" r="1.5"/><text x="101.5" y="3.2">Mirza_zaza</text></g>
<g id="B_Microcebus_murinus" transform="rotate(282.5)"><circle cx="96" r="1.5"/><text x="101.5" y="3.2">Microcebus_murinus</text></g>
<g id="B_Microcebus_ravelobensis" transform="rotate(288.5)"><circle cx="96" r="1.5"/><text x="101.5" y="3.2">Microcebus_ravelobensis</text></g>
<g id="B_Microcebus_griseorufus" transform="rotate(294.5)"><circle cx="96" r="1.5"/><text x="101.5" y="3.2">Microcebus_griseorufus</text></g>
<g id="B_Microcebus_mittermeieri" transform="rotate(300.5)"><circle cx="96" r="1.5"/><text x="101.5" y="3.2">Microcebus_mittermeieri</text></g>
<g id="B_Microcebus" transform="rotate(306.5)"><circle cx="96" r="1.5"/><text x="101.5" y="3.2">Microcebus</text></g>
<g id="B_Microcebus_tavaratra" transform="rotate(312.5)"><circle cx="96" r="1.5"/><text x="101.5" y="3.2">Microcebus_tavaratra</text></g>
</g>
</g>
</svg>
